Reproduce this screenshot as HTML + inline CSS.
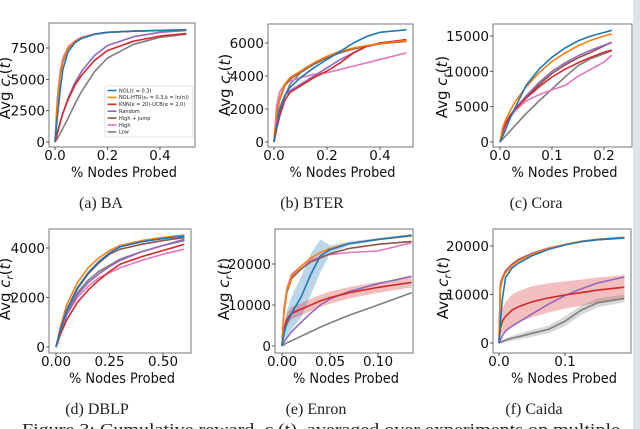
<!DOCTYPE html>
<html><head><meta charset="utf-8"><style>
html,body{margin:0;padding:0;background:#fff;}
svg{display:block;font-family:"DejaVu Sans","Liberation Sans",sans-serif;}
.cap{font-family:"Liberation Serif","DejaVu Serif",serif;}
</style></head><body>
<svg id="fig" width="640" height="429" viewBox="0 0 640 429" xmlns="http://www.w3.org/2000/svg">
<rect x="633" y="0" width="7" height="429" fill="#dfe4ea"/>
<g class="cap" font-size="16" fill="#222" text-anchor="middle">
<text x="101" y="208">(a) BA</text>
<text x="312" y="208">(b) BTER</text>
<text x="536" y="208">(c) Cora</text>
<text x="97" y="414">(d) DBLP</text>
<text x="316" y="414">(e) Enron</text>
<text x="534" y="414">(f) Caida</text>
</g>
<text class="cap" x="22" y="435" font-size="17" fill="#222" textLength="598" lengthAdjust="spacingAndGlyphs">Figure 3: Cumulative reward, c<tspan font-size="12" dy="3">r</tspan><tspan dy="-3">(t), averaged over experiments on multiple</tspan></text>
</svg>
<script>
const COLORS = {blue:"#1f77b4",orange:"#ff7f0e",red:"#d62728",purple:"#9467bd",brown:"#8c564b",pink:"#e377c2",gray:"#7f7f7f"};
const ORDER = ["gray","pink","brown","purple","red","orange","blue"];

// (a) BA
const xA = [0,0.01,0.02,0.03,0.05,0.075,0.1,0.15,0.2,0.3,0.4,0.5];
const aBlue   = [0,2200,4200,5800,7200,7900,8250,8600,8750,8850,8900,8950];
const aOrange = [0,3500,5500,6500,7500,8000,8300,8600,8750,8850,8900,8950];
const aPink   = [0,3700,5700,6700,7600,8050,8350,8620,8760,8860,8910,8960];
const aBrown  = [0,3400,5400,6400,7450,7980,8280,8590,8740,8840,8890,8940];
const aPurple = [0,800,1600,2300,3500,4700,5600,6900,7700,8400,8750,8900];
const aRed    = [0,800,1600,2300,3400,4500,5300,6500,7300,8050,8450,8650];
const aGray   = [0,300,700,1100,1900,3000,4000,5600,6700,7800,8350,8600];
const aXTicks = [0,0.2,0.4], aYTicks=[0,2500,5000,7500];
const aXLabels = ["0.0","0.2","0.4"], aYLabels=["0","2500","5000","7500"];

// (b) BTER
const xB = [0,0.01,0.02,0.04,0.06,0.1,0.15,0.2,0.25,0.3,0.35,0.4,0.5];
const bBlue   = [0,1000,1800,2800,3300,3900,4500,5000,5500,6000,6400,6650,6800];
const bOrange = [0,1800,2600,3500,3900,4300,4800,5200,5500,5700,5850,5950,6150];
const bBrown  = [0,1600,2500,3400,3800,4250,4750,5150,5450,5650,5800,5950,6100];
const bGray   = [0,800,1500,2700,3500,4200,4700,5100,5400,5650,5800,5950,6150];
const bPurple = [0,1200,2000,2800,3100,3500,4000,4500,5000,5400,5800,6000,6200];
const bRed    = [0,800,1500,2500,3000,3400,3900,4300,4800,5400,5800,6000,6200];
const bPink   = [0,2200,3000,3500,3700,3900,4100,4200,4400,4600,4800,5000,5400];
const bXTicks=[0,0.2,0.4], bYTicks=[0,2000,4000,6000];
const bXLabels=["0.0","0.2","0.4"], bYLabels=["0","2000","4000","6000"];

// (c) Cora
const xC = [0,0.005,0.01,0.02,0.03,0.05,0.075,0.1,0.125,0.15,0.175,0.2,0.215];
const cBlue   = [0,800,1600,3500,5000,8000,10300,12000,13300,14300,15000,15500,15800];
const cOrange = [0,2000,3000,4500,5800,7800,9800,11400,12600,13600,14400,15000,15300];
const cPurple = [0,1500,2500,3800,4800,6500,8400,10000,11200,12200,13000,13700,14100];
const cBrown  = [0,1500,2500,3800,4700,6300,8100,9700,10900,11900,12700,13600,14100];
const cRed    = [0,1500,2500,3800,4700,6200,7800,9200,10300,11200,12000,12700,13000];
const cGray   = [0,400,800,1600,2400,4000,5800,7500,9200,10800,11800,12500,12900];
const cPink   = [0,1200,2200,3500,4500,5800,6700,7400,8000,9300,10300,11300,12300];
const cXTicks=[0,0.1,0.2], cYTicks=[0,5000,10000,15000];
const cXLabels=["0.0","0.1","0.2"], cYLabels=["0","5000","10000","15000"];

// (d) DBLP
const xD = [0,0.02,0.05,0.1,0.15,0.2,0.25,0.3,0.4,0.5,0.6];
const dOrange = [0,800,1700,2600,3200,3600,3900,4100,4300,4430,4520];
const dBlue   = [0,700,1500,2400,3000,3450,3800,4050,4250,4380,4480];
const dBrown  = [0,700,1500,2350,2950,3400,3750,3950,4150,4300,4420];
const dGray   = [0,650,1400,2200,2700,3050,3300,3550,3850,4100,4300];
const dPurple = [0,600,1300,2100,2600,2950,3250,3500,3850,4100,4350];
const dRed    = [0,500,1100,1800,2300,2700,3050,3350,3650,3900,4150];
const dPink   = [0,600,1300,2000,2450,2800,3000,3200,3500,3750,3950];
const dXTicks=[0,0.25,0.5], dYTicks=[0,2000,4000];
const dXLabels=["0.00","0.25","0.50"], dYLabels=["0","2000","4000"];

// (e) Enron
const xE = [0,0.002,0.005,0.01,0.02,0.03,0.04,0.05,0.07,0.1,0.135];
const eOrange = [0,8000,13500,17000,19500,21500,22800,23800,25000,26000,26800];
const eBlue   = [0,3000,5500,8000,12000,17500,22000,23500,25000,26000,27000];
const eBrown  = [0,8000,13000,16500,18800,20500,21500,22500,23800,24800,25500];
const ePink   = [0,9000,14000,17500,19500,21000,21800,22300,22800,23200,25200];
const eRed    = [0,4000,6500,8000,9000,10000,11000,11800,13000,14300,15500];
const ePurple = [0,1000,2000,3500,5800,8000,10000,11500,13300,15200,17000];
const eGray   = [0,300,800,1300,2400,3500,4600,5600,7500,10000,13000];
const eBlueBand = [0,1500,3000,4000,5000,5000,4000,1000,500,300,300];
const eRedBand  = [0,1000,1500,1500,1500,1500,1500,1500,1400,1300,1200];
const eXTicks=[0,0.05,0.1], eYTicks=[0,10000,20000];
const eXLabels=["0.00","0.05","0.10"], eYLabels=["0","10000","20000"];

// (f) Caida
const xF = [0,0.002,0.005,0.01,0.02,0.03,0.05,0.075,0.1,0.125,0.15,0.19];
const fOrange = [0,11000,13000,14500,16000,17000,18300,19500,20300,21000,21400,21800];
const fBlue   = [0,4000,9000,13500,15500,16500,18000,19300,20200,20900,21300,21700];
const fPink   = [0,12500,13500,15000,16300,17300,18500,19600,20300,20900,21300,21600];
const fBrown  = [0,11500,13200,14700,16200,17200,18400,19500,20300,20900,21300,21700];
const fGray   = [0,100,300,600,1000,1300,2000,2800,4500,6800,8300,9200];
const fRed    = [0,3000,4500,5500,6800,7500,8500,9300,9900,10400,10900,11500];
const fPurple = [0,500,1500,2500,3500,4300,6000,8000,9800,11200,12400,13600];
const fRedBand  = [0,1500,2500,3000,3200,3200,3200,3000,2800,2700,2600,2500];
const fGrayBand = [0,200,300,400,500,600,700,800,1000,1000,900,800];
const fXTicks=[0,0.1], fYTicks=[0,10000,20000];
const fXLabels=["0.0","0.1"], fYLabels=["0","10000","20000"];

const svg = document.getElementById('fig');
const NS = "http://www.w3.org/2000/svg";
function mk(tag, attrs, parent){ const e=document.createElementNS(NS,tag); for(const k in attrs) e.setAttribute(k,attrs[k]); (parent||svg).appendChild(e); return e; }

function plot(id, box, xs, series, bands, xt, xl, yt, yl, labelX, labelY){
  const g = mk('g',{});
  
  
  const xS = v => box.x0 + v*(box.x1 - box.x0)/box.xv;
  const yS = v => box.y0 - v*(box.y0 - box.y1)/box.yv;
  const clip = mk('clipPath',{id:'clip'+id}, g);
  mk('rect',{x:box.l,y:box.t,width:box.r-box.l,height:box.b-box.t}, clip);
  const pg = mk('g',{'clip-path':'url(#clip'+id+')'}, g);
  for(const bd of bands){
    const vals = series[bd.s];
    let up = xs.map((x,i)=>xS(x)+','+yS(vals[i]+bd.w[i]));
    let dn = xs.map((x,i)=>xS(x)+','+yS(vals[i]-bd.w[i])).reverse();
    const p = mk('polygon',{points:up.concat(dn).join(' '),fill:COLORS[bd.s],'fill-opacity':0.3}, pg);
    
    
  }
  for(const s of ORDER){
    if(!series[s]) continue;
    const pts = xs.map((x,i)=>xS(x).toFixed(1)+','+yS(series[s][i]).toFixed(1)).join(' ');
    const l = mk('polyline',{points:pts,fill:'none',stroke:COLORS[s],'stroke-width':1.6,'stroke-linejoin':'round'}, pg);
    
    
  }
  mk('rect',{x:box.l,y:box.t,width:box.r-box.l,height:box.b-box.t,fill:'none',stroke:'#777','stroke-width':1}, g);
  xt.forEach((v,i)=>{
    const x=xS(v);
    mk('line',{x1:x,x2:x,y1:box.b,y2:box.b+3,stroke:'#333','stroke-width':0.8}, g);
    const t = mk('text',{x:x,y:box.b+13,'font-size':13.5,'text-anchor':'middle',fill:'#111'}, g);
    t.textContent = xl[i];
    
    
  });
  yt.forEach((v,i)=>{
    const y=yS(v);
    mk('line',{x1:box.l-3,x2:box.l,y1:y,y2:y,stroke:'#333','stroke-width':0.8}, g);
    const t = mk('text',{x:box.l-4,y:y+5,'font-size':13.5,'text-anchor':'end',fill:'#111'}, g);
    t.textContent = yl[i];
    
    
  });
  const xlab = mk('text',{x:(box.l+box.r)/2+2,y:box.b+30,'font-size':14,'text-anchor':'middle',fill:'#111',textLength:106,lengthAdjust:'spacingAndGlyphs'}, g);
  xlab.textContent = '% Nodes Probed';
  
  
  const ylab = mk('text',{x:0,y:0,'font-size':15,'text-anchor':'middle',fill:'#111',transform:'translate('+(labelX+9)+','+labelY+') rotate(-90)'}, g);
  ylab.innerHTML = 'Avg <tspan font-style="italic">c</tspan><tspan font-size="10" dy="3" font-style="italic">r</tspan><tspan dy="-3">(</tspan><tspan font-style="italic">t</tspan>)';
  
  
}

plot('a',{l:49,r:195,t:23,b:147,x0:55,x1:160,xv:0.4,y0:142,y1:48,yv:7500}, xA,
 {blue:aBlue,orange:aOrange,pink:aPink,brown:aBrown,purple:aPurple,red:aRed,gray:aGray},[],
 aXTicks,aXLabels,aYTicks,aYLabels,1,88);
plot('b',{l:268,r:413,t:24,b:147,x0:274,x1:380,xv:0.4,y0:142,y1:43,yv:6000}, xB,
 {blue:bBlue,orange:bOrange,brown:bBrown,gray:bGray,purple:bPurple,red:bRed,pink:bPink},[],
 bXTicks,bXLabels,bYTicks,bYLabels,221,85);
plot('c',{l:493,r:632,t:24,b:147,x0:500,x1:604,xv:0.2,y0:142,y1:36,yv:15000}, xC,
 {blue:cBlue,orange:cOrange,purple:cPurple,brown:cBrown,red:cRed,gray:cGray,pink:cPink},[],
 cXTicks,cXLabels,cYTicks,cYLabels,438,87);
plot('d',{l:49,r:191,t:229,b:353,x0:56,x1:163,xv:0.5,y0:347,y1:248,yv:4000}, xD,
 {orange:dOrange,blue:dBlue,brown:dBrown,gray:dGray,purple:dPurple,red:dRed,pink:dPink},[],
 dXTicks,dXLabels,dYTicks,dYLabels,1,289);
plot('e',{l:275,r:413,t:229,b:353,x0:282,x1:378,xv:0.1,y0:346,y1:264,yv:20000}, xE,
 {orange:eOrange,blue:eBlue,brown:eBrown,pink:ePink,red:eRed,purple:ePurple,gray:eGray},
 [{s:'blue',w:eBlueBand},{s:'red',w:eRedBand}],
 eXTicks,eXLabels,eYTicks,eYLabels,220,289);
plot('f',{l:493,r:631,t:229,b:353,x0:499,x1:565,xv:0.1,y0:343,y1:246,yv:20000}, xF,
 {orange:fOrange,blue:fBlue,pink:fPink,brown:fBrown,gray:fGray,red:fRed,purple:fPurple},
 [{s:'red',w:fRedBand},{s:'gray',w:fGrayBand}],
 fXTicks,fXLabels,fYTicks,fYLabels,439,288);

const LEG = ["NOL(ε = 0.3)","NOL-HTR(ε₀ = 0.3,k = ln(n))","KNN(k = 20)-UCB(α = 2.0)","Random","High + jump","High","Low"];
const LEGC = ["blue","orange","red","purple","brown","pink","gray"];
const lg = mk('g',{});


mk('rect',{x:105,y:86,width:88,height:51,fill:'#fff','fill-opacity':0.85,stroke:'#ccc','stroke-width':0.6,rx:1.5}, lg);
LEG.forEach((t,i)=>{
  const y = 90.5 + i*6.9;
  mk('line',{x1:107.5,x2:116.5,y1:y,y2:y,stroke:COLORS[LEGC[i]],'stroke-width':1.6}, lg);
  const tx = mk('text',{x:119,y:y+1.8,'font-size':5,fill:'#222'}, lg);
  tx.textContent = t;
  
  
});
</script>
</body></html>
